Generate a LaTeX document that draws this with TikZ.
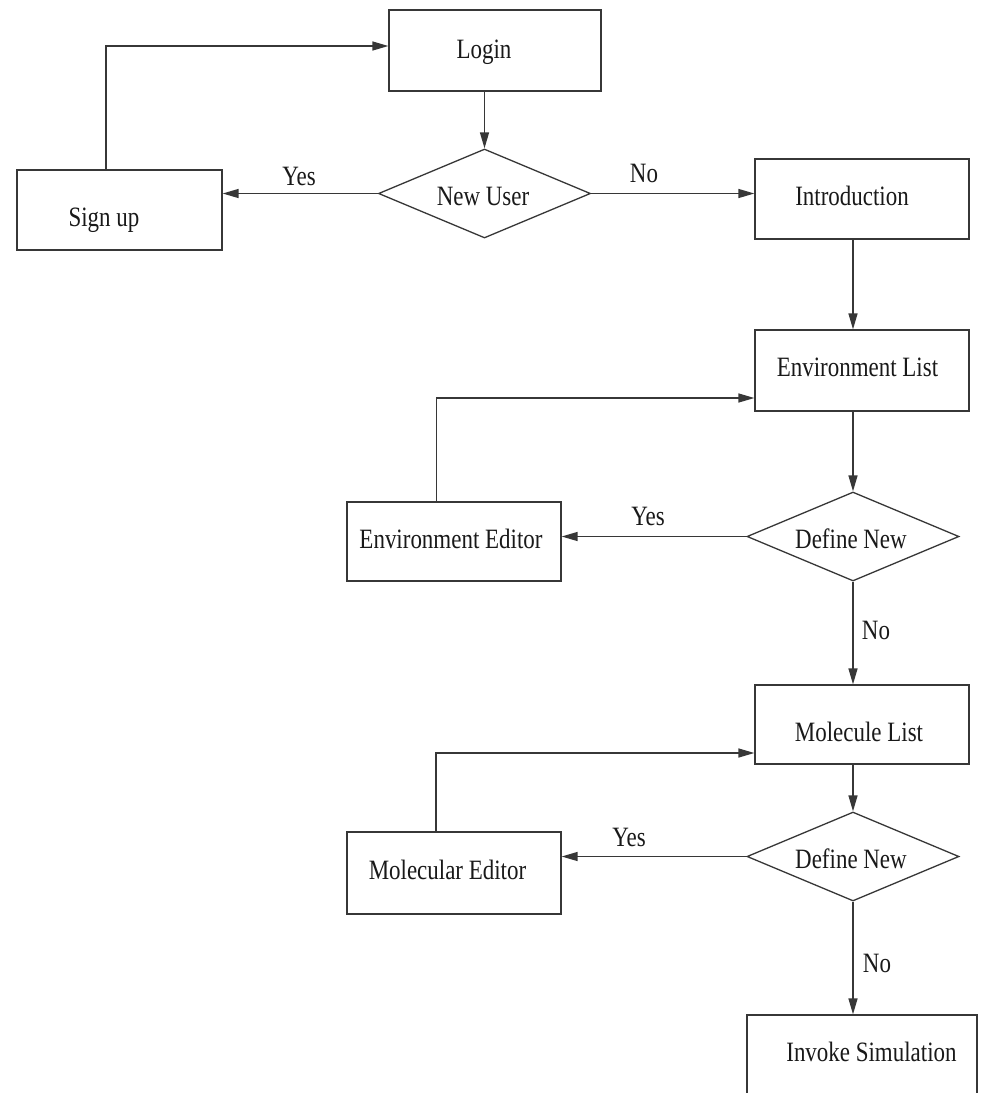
\documentclass[tikz,border=0pt]{standalone}
\usepackage{fontspec}
\setmainfont[FakeStretch=0.82]{Liberation Serif}
\usetikzlibrary{shapes.geometric,arrows.meta,calc}
\definecolor{linec}{RGB}{55,55,55}
\definecolor{txtc}{RGB}{25,25,25}
\tikzset{
  boxnode/.style={draw=linec,line width=1.3pt,rectangle,inner sep=0pt},
  decnode/.style={draw=linec,line width=1.3pt,diamond,inner sep=0pt,minimum width=212pt,minimum height=89pt},
  txt/.style={text=txtc,font=\fontsize{28}{32}\selectfont,inner sep=0pt},
  arr/.style={draw=linec,line width=1.4pt,-{Triangle[length=16pt,width=9pt]}},
  ln/.style={draw=linec,line width=1.4pt}
}
\begin{document}
\begin{tikzpicture}[x=1pt,y=-1pt]
\useasboundingbox (0,0) rectangle (981,1093);
\fill[white] (0,0) rectangle (981,1093);
\clip (0,0) rectangle (981,1093);

% boxes
\node[boxnode,minimum width=212pt,minimum height=81pt] (login) at (495,50.5) {};
\node[boxnode,minimum width=205pt,minimum height=80pt] (signup) at (119.5,210) {};
\node[decnode] (newuser) at (484.5,193.5) {};
\node[boxnode,minimum width=214pt,minimum height=80pt] (intro) at (862,199) {};
\node[boxnode,minimum width=214pt,minimum height=81pt] (envlist) at (862,370.5) {};
\node[decnode] (dn1) at (853,536.5) {};
\node[boxnode,minimum width=214pt,minimum height=79pt] (enved) at (454,541.5) {};
\node[boxnode,minimum width=214pt,minimum height=79pt] (mollist) at (862,724.5) {};
\node[decnode] (dn2) at (853,856.5) {};
\node[boxnode,minimum width=214pt,minimum height=82pt] (moled) at (454,873) {};
\node[boxnode,minimum width=230pt,minimum height=110pt] (invoke) at (862,1070) {};

% texts
\node[txt] (tlogin) at (484,52) {Login};
\node[txt] (tsignup) at (104,220) {Sign up};
\node[txt] (tnewuser) at (483,196) {New User};
\node[txt] (tintro) at (852,196) {Introduction};
\node[txt] (tenvlist) at (857.5,367) {Environment List};
\node[txt] (tdn1) at (851,539) {Define New};
\node[txt] (tenved) at (451,539) {Environment Editor};
\node[txt] (tmollist) at (859,732) {Molecule List};
\node[txt] (tdn2) at (851,859) {Define New};
\node[txt] (tmoled) at (447.5,870) {Molecular Editor};
\node[txt] (tinvoke) at (871.5,1052) {Invoke Simulation};

% labels
\node[txt] (yes0) at (299,176) {Yes};
\node[txt] (no0) at (644,173) {No};
\node[txt] (yes1) at (648,516) {Yes};
\node[txt] (no1) at (876,630) {No};
\node[txt] (yes2) at (629,837) {Yes};
\node[txt] (no2) at (877,963) {No};

% connectors
\draw[arr] (login.south -| newuser.north) -- (newuser.north);
\draw[arr] (newuser.west) -- (newuser.west -| signup.east);
\draw[arr] (newuser.east) -- (newuser.east -| intro.west);
\draw[arr] ([xshift=-13.5pt]signup.north) |- ([yshift=4.5pt]login.west);
\draw[arr] (intro.south -| dn1.north) -- (envlist.north -| dn1.north);
\draw[arr] (envlist.south -| dn1.north) -- (dn1.north);
\draw[arr] (dn1.west) -- (dn1.west -| enved.east);
\draw[arr] ([xshift=-17.5pt]enved.north) |- ([yshift=-27.5pt]envlist.west);
\draw[arr] (dn1.south) -- (mollist.north -| dn1.south);
\draw[arr] (mollist.south -| dn2.north) -- (dn2.north);
\draw[arr] (dn2.west) -- (dn2.west -| moled.east);
\draw[arr] ([xshift=-18pt]moled.north) |- ([yshift=-28.5pt]mollist.west);
\draw[arr] (dn2.south) -- (invoke.north -| dn2.south);
\end{tikzpicture}
\end{document}
